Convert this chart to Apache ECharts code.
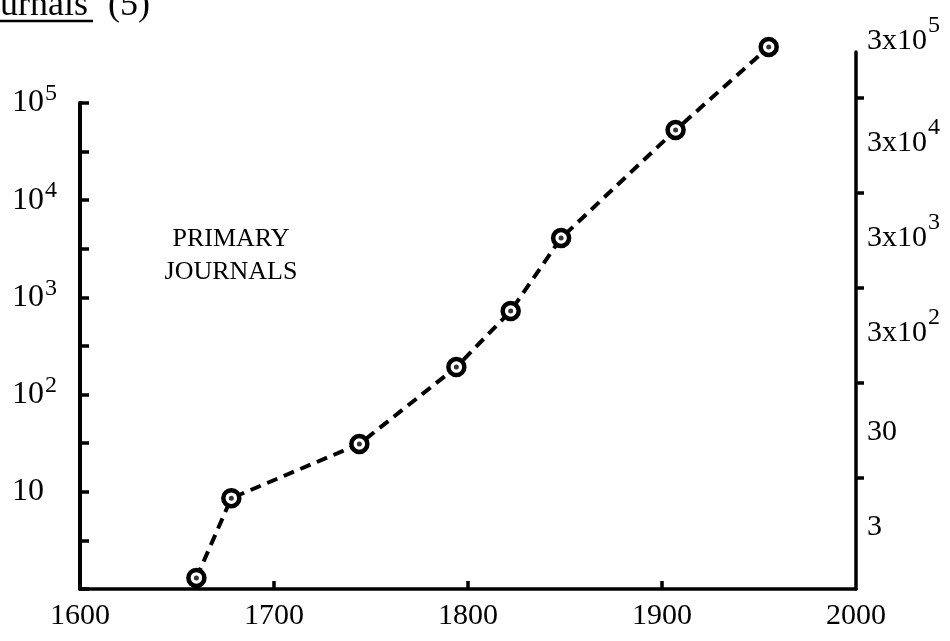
<!DOCTYPE html>
<html>
<head>
<meta charset="utf-8">
<script src="https://cdn.jsdelivr.net/npm/echarts@6/dist/echarts.min.js"></script>
<style>html,body{margin:0;padding:0;background:#fff}#c{width:950px;height:641px}</style>
</head>
<body>
<div id="c"></div>
<script>
// Data
var years = [1660, 1678, 1744, 1794, 1822, 1848, 1907, 1955];
var journals = [1.3, 8.6, 31, 192, 724, 4080, 52700, 377000];
var xTicks = [1600, 1700, 1800, 1900, 2000];
var leftLabels = [10, 100, 1000, 10000, 100000];
var leftTicks = [1, 3.162, 10, 31.62, 100, 316.2, 1000, 3162, 10000, 31620, 100000];
var rightLabels = [3, 30, 300, 3000, 30000, 300000];
var rightTicks = [10, 100, 1000, 10000, 100000];
var titleWord = 'Journals';
var titleRef = '(5)';
var panelText = 'PRIMARY\nJOURNALS';

var FONT = 'Liberation Serif';
var pts = years.map(function (y, i) { return [y, journals[i]]; });

function expOf(v) { return Math.round(Math.log10(v)); }

var chart = echarts.init(document.getElementById('c'), null, {renderer: 'canvas'});
chart.setOption({
  animation: false,
  backgroundColor: '#fff',
  grid: [
    {left: 80, right: 94, top: 103, bottom: 52},
    {left: 80, right: 94, top: 52, bottom: 52}
  ],
  xAxis: [
    {
      gridIndex: 0, type: 'value', min: 1600, max: 2000, interval: 100,
      axisLine: {lineStyle: {color: '#000', width: 3.5}},
      axisTick: {inside: true, length: 8, lineStyle: {color: '#000', width: 3.5}, customValues: [1700, 1800, 1900]},
      axisLabel: {customValues: xTicks, color: '#000', fontFamily: FONT, fontSize: 30, margin: 12,
        formatter: function (v) { return String(v); }},
      splitLine: {show: false}
    },
    {gridIndex: 1, type: 'value', min: 1600, max: 2000, show: false}
  ],
  yAxis: [
    {
      gridIndex: 0, type: 'log', min: 1, max: 100000, position: 'left',
      axisLine: {show: true, lineStyle: {color: '#000', width: 4}},
      axisTick: {show: true, inside: true, length: 9, customValues: leftTicks, lineStyle: {color: '#000', width: 3.5}},
      axisLabel: {
        customValues: leftLabels, color: '#000', fontFamily: FONT, fontSize: 32, align: 'left', margin: 68,
        formatter: function (v) { return v < 50 ? '10' : '10{s|' + expOf(v) + '}'; },
        rich: {s: {fontFamily: FONT, fontSize: 24, color: '#000', verticalAlign: 'bottom', padding: [0, 0, 18, 1]}}
      },
      splitLine: {show: false}
    },
    {
      gridIndex: 1, type: 'log', min: 0.666, max: 300000, position: 'right',
      axisLine: {show: true, lineStyle: {color: '#000', width: 3.5}},
      axisTick: {show: true, inside: false, length: 8, customValues: rightTicks, lineStyle: {color: '#000', width: 3.5}},
      axisLabel: {
        customValues: rightLabels, color: '#000', fontFamily: FONT, fontSize: 30, align: 'left', margin: 11,
        formatter: function (v) {
          if (v < 10) return '3';
          if (v < 100) return '30';
          var e = expOf(v / 3);
          if (v > 200000) return '{bt|3x10}{st|' + e + '}';
          return '{b|3x10}{s|' + e + '}';
        },
        rich: {
          b: {fontFamily: FONT, fontSize: 30, color: '#000', verticalAlign: 'bottom', padding: [0, 0, 20, 0]},
          s: {fontFamily: FONT, fontSize: 24, color: '#000', verticalAlign: 'bottom', padding: [0, 0, 38, 1]},
          bt: {fontFamily: FONT, fontSize: 30, color: '#000', verticalAlign: 'bottom', padding: [0, 0, 34, 0]},
          st: {fontFamily: FONT, fontSize: 24, color: '#000', verticalAlign: 'bottom', padding: [0, 0, 52, 1]}
        }
      },
      splitLine: {show: false}
    }
  ],
  graphic: [
    {type: 'text', x: -32, y: -12, style: {text: titleWord, fontFamily: FONT, fontSize: 36, fill: '#000'}},
    {type: 'text', x: 108, y: -12, style: {text: titleRef, fontFamily: FONT, fontSize: 36, fill: '#000'}},
    {type: 'line', shape: {x1: 0, y1: 21, x2: 93, y2: 21}, style: {stroke: '#000', lineWidth: 2.5}},
    {type: 'text', x: 231, y: 223, style: {text: panelText, fontFamily: FONT, fontSize: 26, fill: '#000', align: 'center', lineHeight: 33}}
  ],
  series: [
    {
      type: 'line', xAxisIndex: 0, yAxisIndex: 0, data: pts, clip: false,
      lineStyle: {color: '#000', width: 4, type: [11, 7], cap: 'butt'},
      symbol: 'circle', symbolSize: 16,
      itemStyle: {color: '#fff', borderColor: '#000', borderWidth: 4.5},
      z: 2
    },
    {
      type: 'scatter', xAxisIndex: 0, yAxisIndex: 0, data: pts, clip: false,
      symbol: 'circle', symbolSize: 5, itemStyle: {color: '#000'}, z: 3
    }
  ]
});
</script>
</body>
</html>
